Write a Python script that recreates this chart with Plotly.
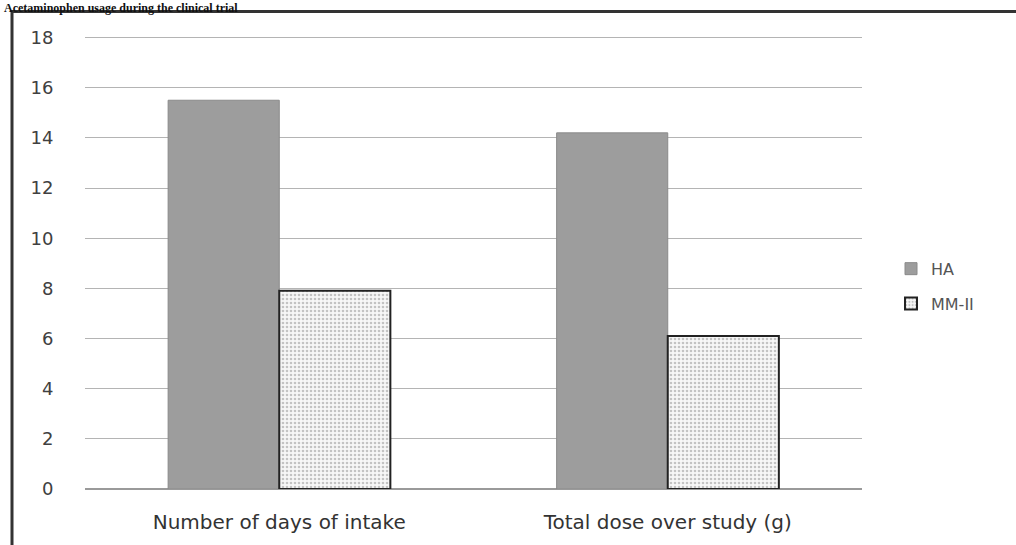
import plotly.graph_objects as go

categories = ["Number of days of intake", "Total dose over study (g)"]
ha_values = [15.5, 14.2]
mm_values = [7.9, 6.1]
y_ticks = [0, 2, 4, 6, 8, 10, 12, 14, 16, 18]
title_text = "Acetaminophen usage during the clinical trial"

fig = go.Figure()
fig.add_trace(go.Bar(
    name="HA", x=categories, y=ha_values, legendgroup="ha",
    marker=dict(color="#9d9d9d", line=dict(color="#8a8a8a", width=1)),
))
fig.add_trace(go.Bar(
    name="MM-II", x=categories, y=mm_values, legendgroup="mm",
    marker=dict(color="#f4f4f4",
                pattern=dict(shape=".", fgcolor="#8f8f8f", bgcolor="#f7f7f7", size=4, solidity=0.35),
                line=dict(color="#222222", width=2)),
))

YMAX = 18.5
L, R, B = 85, 862, 489
T = B - (489 - 38) * YMAX / 18
W, H = 1016, 545
def px(x):
    return (x - L) / (R - L)
def py(y):
    return (B - y) / (B - T)

fig.update_layout(
    width=W, height=H,
    margin=dict(l=L, r=W - R, t=T, b=H - B, autoexpand=False),
    paper_bgcolor="white", plot_bgcolor="white",
    barmode="group", bargap=0.428, bargroupgap=0,
    font=dict(family="DejaVu Sans, sans-serif", color="#404040"),
    showlegend=True,
    legend=dict(x=px(891), y=py(252), xanchor="left", yanchor="top",
                font=dict(size=16, family="DejaVu Sans, sans-serif", color="#555555"),
                tracegroupgap=11, itemwidth=30, bgcolor="rgba(0,0,0,0)"),
    xaxis=dict(showgrid=False, showline=False, ticks="outside", ticklen=15,
               tickcolor="rgba(0,0,0,0)", automargin=False,
               tickfont=dict(size=20, family="DejaVu Sans, sans-serif", color="#333333")),
    yaxis=dict(range=[0, YMAX], tickvals=y_ticks, showgrid=True, gridcolor="#b4b4b4",
               gridwidth=1, zeroline=True, zerolinecolor="#9a9a9a", zerolinewidth=2,
               showline=False, ticks="outside", ticklen=27, tickcolor="rgba(0,0,0,0)",
               automargin=False,
               tickfont=dict(size=18, family="DejaVu Sans, sans-serif", color="#404040")),
    shapes=[dict(type="path", xref="paper", yref="paper",
                 path=f"M {px(12)} {py(560)} L {px(12)} {py(12)} L {px(1030)} {py(12)}",
                 line=dict(color="#333333", width=3))],
    annotations=[dict(text=f"<b>{title_text}</b>", xref="paper", yref="paper",
                      x=px(2), y=py(-1), xanchor="left", yanchor="top", showarrow=False,
                      font=dict(family="Liberation Serif, Times New Roman, serif", size=12,
                                color="#111111"))],
)

fig.write_html("out.html", config={"displayModeBar": False},
               post_script="document.body.style.margin='0';")
